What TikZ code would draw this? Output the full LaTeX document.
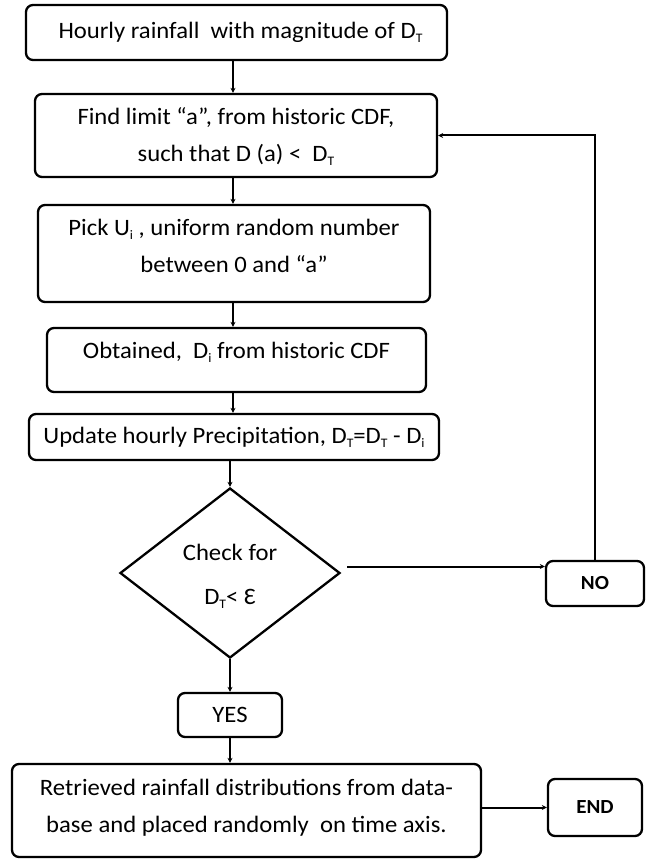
\documentclass[tikz,border=0pt]{standalone}
\usepackage{fontspec}
\setmainfont{Carlito}[FakeStretch=1.05]
\usetikzlibrary{shapes.geometric,arrows.meta}
\newcommand\subx[1]{\raisebox{-0.35ex}{\fontsize{13}{13}\selectfont #1}}
\begin{document}
\begin{tikzpicture}[x=1pt,y=-1pt,
  box/.style={draw,line width=2.3pt,rounded corners=7pt,inner sep=0pt},
  lbl/.style={align=center,inner sep=0pt,font=\fontsize{23.5}{37}\selectfont},
  blbl/.style={lbl,font=\fontsize{20}{24}\selectfont\bfseries},
  arr/.style={line width=2pt,-{Stealth[length=5pt,width=5pt]}}]
\useasboundingbox (0,0) rectangle (645,861);
\coordinate (spine) at (233,0);
% boxes
\node[box,minimum width=421pt,minimum height=55pt] (b1) at (236.5,32.5) {};
\node[lbl,xshift=4pt] (t1) at (b1.center) {Hourly rainfall\ \ with magnitude of D\subx{T}};
\node[box,minimum width=402pt,minimum height=83pt] (b2) at (236,135.5) {};
\node[lbl,yshift=-1pt] (t2) at (b2.center) {Find limit “a”, from historic CDF,\\ such that D (a) <\ \ D\subx{T}};
\node[box,minimum width=392pt,minimum height=97pt] (b3) at (234,253.5) {};
\node[lbl,yshift=8pt] (t3) at (b3.center) {Pick U\subx{i} , uniform random number\\ between 0 and “a”};
\node[box,minimum width=379pt,minimum height=64pt] (b4) at (236.5,360) {};
\node[lbl,yshift=8pt] (t4) at (b4.center) {Obtained,\ \ D\subx{i} from historic CDF};
\node[box,minimum width=410pt,minimum height=46pt] (b5) at (234,437) {};
\node[lbl] (t5) at (b5.center) {Update hourly Precipitation, D\subx{T}=D\subx{T} - D\subx{i}};
\node[draw,diamond,line width=2.3pt,inner sep=0pt,minimum width=220pt,minimum height=170pt] (dia) at (230,573) {};
\node[lbl,font=\fontsize{23.5}{44}\selectfont,yshift=-3pt] (td) at (dia.center) {Check for\\ D\subx{T}< Ɛ};
\node[box,minimum width=98pt,minimum height=45pt] (no) at (595,583.5) {};
\node[blbl] (tno) at (no.center) {NO};
\node[box,minimum width=104pt,minimum height=44pt] (yes) at (230,715) {};
\node[lbl] (tyes) at (yes.center) {YES};
\node[box,minimum width=469pt,minimum height=93pt] (b6) at (246.5,810.5) {};
\node[lbl,yshift=3pt] (t6) at (b6.center) {Retrieved rainfall distributions from data-\\ base and placed randomly\ \ on time axis.};
\node[box,minimum width=94pt,minimum height=57pt] (end) at (595,807.5) {};
\node[blbl] (tend) at (end.center) {END};
% connectors
\draw[arr] (b1.south -| spine) -- (b2.north -| spine);
\draw[arr] (b2.south -| spine) -- (b3.north -| spine);
\draw[arr] (b3.south -| spine) -- (b4.north -| spine);
\draw[arr] (b4.south -| spine) -- (b5.north -| spine);
\draw[arr] (b5.south -| dia.north) -- (dia.north);
\draw[arr] (dia.south) -- (yes.north -| dia.south);
\draw[arr] (yes.south) -- (b6.north -| yes.south);
\draw[arr] (dia.east) ++(6pt,6.5pt) coordinate (de) -- (de -| no.west);
\draw[arr] (no.north) |- (b2.east);
\draw[arr] (b6.east |- end.west) -- (end.west);
\end{tikzpicture}
\end{document}
